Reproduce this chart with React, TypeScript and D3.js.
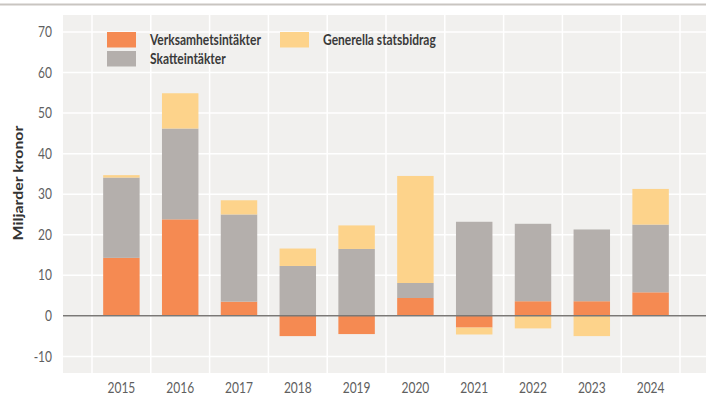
import React, { useEffect, useRef } from 'react';
import * as d3 from 'd3';

const years = ['2015', '2016', '2017', '2018', '2019', '2020', '2021', '2022', '2023', '2024'];
const verksamhet = [14.3, 23.8, 3.5, -5.0, -4.5, 4.4, -2.9, 3.6, 3.6, 5.8];
const skatt = [19.8, 22.4, 21.5, 12.3, 16.5, 3.7, 23.2, 19.1, 17.7, 16.7];
const statsbidrag = [0.6, 8.7, 3.5, 4.3, 5.8, 26.4, -1.7, -3.1, -5.0, 8.8];
const yTicks = [-10, 0, 10, 20, 30, 40, 50, 60, 70];

const seriesKeys = ['verksamhet', 'skatt', 'statsbidrag'];
const seriesLabels: Record<string, string> = {
  verksamhet: 'Verksamhetsintäkter',
  skatt: 'Skatteintäkter',
  statsbidrag: 'Generella statsbidrag',
};
const colors: Record<string, string> = {
  verksamhet: '#f58a52',
  skatt: '#b4afac',
  statsbidrag: '#fdd38b',
};

export default function App() {
  const svgRef = useRef<SVGSVGElement>(null);

  useEffect(() => {
    if (!svgRef.current) return;
    const svg = d3.select(svgRef.current);
    svg.selectAll('*').remove();

    const W = 706;
    const panel = { left: 63, right: 706, top: 15, bottom: 373 };
    const font = 'Lato, "Open Sans", sans-serif';
    // the source picture is a little stretched vertically, so text is too
    const stretch = 1.22;

    const rows = years.map((y, i) => ({
      year: y,
      verksamhet: verksamhet[i],
      skatt: skatt[i],
      statsbidrag: statsbidrag[i],
    }));

    const x = d3.scaleBand<string>()
      .domain(years)
      .range([92, 680])
      .paddingInner(0.38)
      .paddingOuter(0.19);
    const step = x.step();

    const y = d3.scaleLinear().domain([-14.1, 74.2]).range([panel.bottom, panel.top]);

    // top rule
    svg.append('rect')
      .attr('x', 0).attr('y', 3.5).attr('width', W).attr('height', 2)
      .attr('fill', '#c9c5c1');

    // panel
    svg.append('rect')
      .attr('x', panel.left).attr('y', panel.top)
      .attr('width', panel.right - panel.left).attr('height', panel.bottom - panel.top)
      .attr('fill', '#f1f0ee');

    // horizontal grid
    svg.append('g').selectAll('line')
      .data(yTicks)
      .join('line')
      .attr('x1', panel.left).attr('x2', panel.right)
      .attr('y1', d => y(d)).attr('y2', d => y(d))
      .attr('stroke', '#ffffff').attr('stroke-width', 1.5);

    // vertical grid at category boundaries
    const bounds = years.map(d => (x(d) as number) + x.bandwidth() / 2 - step / 2);
    bounds.push((x(years[years.length - 1]) as number) + x.bandwidth() / 2 + step / 2);
    svg.append('g').selectAll('line')
      .data(bounds)
      .join('line')
      .attr('x1', d => d).attr('x2', d => d)
      .attr('y1', panel.top).attr('y2', panel.bottom)
      .attr('stroke', '#ffffff').attr('stroke-width', 1.5);

    // stacked bars
    const stack = d3.stack<any>().keys(seriesKeys).offset(d3.stackOffsetDiverging);
    const series = stack(rows);
    svg.append('g').selectAll('g')
      .data(series)
      .join('g')
      .attr('fill', d => colors[d.key])
      .selectAll('rect')
      .data(d => d)
      .join('rect')
      .attr('x', d => x(d.data.year) as number)
      .attr('width', x.bandwidth())
      .attr('y', d => y(Math.max(d[0], d[1])))
      .attr('height', d => Math.abs(y(d[0]) - y(d[1])));

    // zero line
    svg.append('line')
      .attr('x1', panel.left).attr('x2', panel.right)
      .attr('y1', y(0)).attr('y2', y(0))
      .attr('stroke', '#7a7876').attr('stroke-width', 1.5);

    // y ticks
    svg.append('g').selectAll('text')
      .data(yTicks)
      .join('text')
      .attr('transform', d => `translate(52,${y(d)}) scale(1,${stretch})`)
      .attr('dy', '0.35em')
      .attr('text-anchor', 'end')
      .attr('font-family', font)
      .attr('font-size', 12)
      .attr('fill', '#5f5f5f')
      .text(d => d);

    // x labels
    svg.append('g').selectAll('text')
      .data(years)
      .join('text')
      .attr('transform', d => `translate(${(x(d) as number) + x.bandwidth() / 2},388) scale(1,${stretch})`)
      .attr('dy', '0.35em')
      .attr('text-anchor', 'middle')
      .attr('font-family', font)
      .attr('font-size', 12)
      .attr('fill', '#5f5f5f')
      .text(d => d);

    // y axis title
    svg.append('text')
      .attr('transform', `translate(18,183) scale(1,${stretch}) rotate(-90)`)
      .attr('text-anchor', 'middle')
      .attr('dy', '0.35em')
      .attr('font-family', font)
      .attr('font-size', 13)
      .attr('font-weight', 'bold')
      .attr('fill', '#333')
      .text('Miljarder kronor');

    // legend
    const legendItems = [
      { key: 'verksamhet', x: 107, y: 32 },
      { key: 'skatt', x: 107, y: 51 },
      { key: 'statsbidrag', x: 280, y: 32 },
    ];
    const lg = svg.append('g').selectAll('g')
      .data(legendItems)
      .join('g')
      .attr('transform', d => `translate(${d.x},${d.y})`);
    lg.append('rect')
      .attr('width', 29).attr('height', 15.5)
      .attr('fill', d => colors[d.key]);
    lg.append('text')
      .attr('transform', `translate(43,8) scale(1,${stretch})`)
      .attr('dy', '0.35em')
      .attr('font-family', font)
      .attr('font-size', 12)
      .attr('font-weight', 'bold')
      .attr('fill', '#3a3a3a')
      .text(d => seriesLabels[d.key]);
  }, []);

  return (
    <div style={{ position: 'absolute', left: 0, top: 0 }}>
      <svg ref={svgRef} width={706} height={400} style={{ display: 'block', background: '#fff' }} />
    </div>
  );
}
